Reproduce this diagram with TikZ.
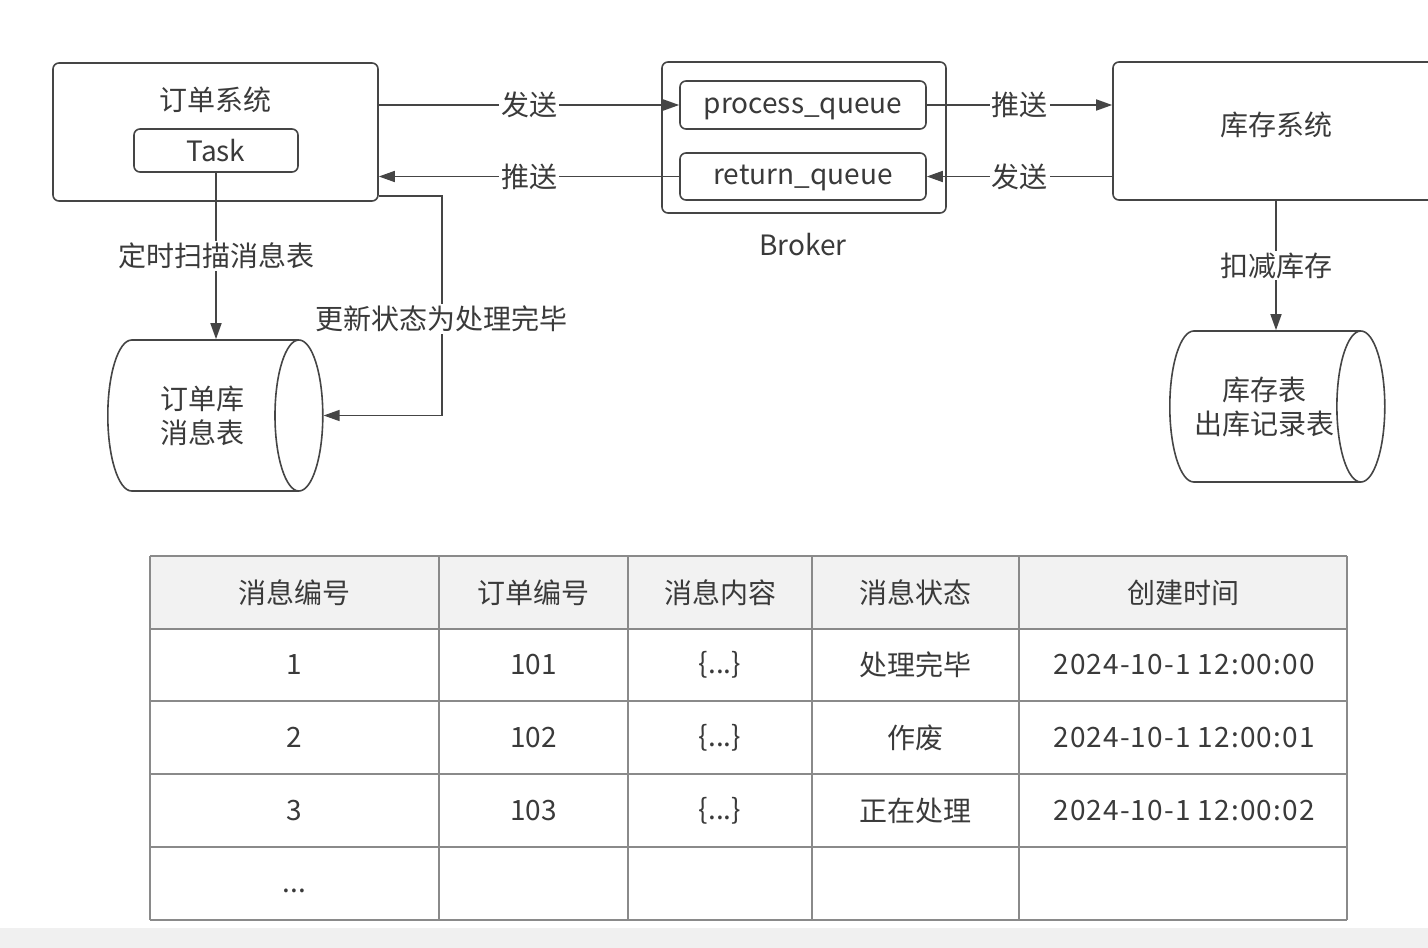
\documentclass[tikz,border=0pt]{standalone}
\usepackage{fontspec}
\setmainfont{Noto Sans CJK SC}
\usepackage{tikz}
\usetikzlibrary{arrows.meta,shapes.geometric}
\definecolor{linegray}{HTML}{454545}
\definecolor{textgray}{HTML}{3A3A3A}
\definecolor{gridgray}{HTML}{8A8A8A}
\definecolor{headfill}{HTML}{F2F2F2}
\newcommand{\msgbody}{\{...\}}

\begin{document}
\begin{tikzpicture}[x=1pt, y=-1pt,
    font=\fontsize{28}{34}\selectfont, text=textgray,
    box/.style={draw=linegray, line width=1.6pt, rounded corners=6pt, inner sep=0pt},
    db/.style={draw=linegray, line width=1.6pt, shape=cylinder, aspect=0.8, anchor=west,
      minimum width=151pt, minimum height=215pt, align=center, inner sep=0pt},
    arr/.style={draw=linegray, line width=1.6pt, -{Triangle[length=16pt,width=11pt]}},
    lbl/.style={fill=white, inner sep=2pt},
    grid/.style={draw=gridgray, line width=1.4pt}]
  \useasboundingbox (0,0) rectangle (1428,948);
  \fill[gray!12] (0,928) rectangle (1428,948);

  \node[box, minimum width=325pt, minimum height=138pt] (sys) at (215.5,132) {};
  \node (systitle) at (215,100) {订单系统};
  \node[box, minimum width=164pt, minimum height=43pt] (task) at (216,150.5) {Task};

  \node[box, minimum width=284pt, minimum height=151pt] (broker) at (804,137.5) {};
  \node[box, minimum width=246pt, minimum height=48pt, text height=20pt, text depth=4pt] (pq) at (803,105) {process\_queue};
  \node[box, minimum width=246pt, minimum height=47pt, text height=20pt, text depth=4pt] (rq) at (803,176.5) {return\_queue};
  \node (brokerlbl) at (803,245) {Broker};

  \node[box, minimum width=334pt, minimum height=138pt] (stock) at (1280,131) {};
  \node (stocktitle) at (1276,125) {库存系统};

  \node[db] (db1) at (107,415.5) {订单库\\消息表};
  \node[db] (db2) at (1169,406.5) {库存表\\出库记录表};

  \draw[arr] (sys.east |- pq) -- node[lbl] {发送} (pq.west);
  \draw[arr] (rq.west) -- node[lbl] {推送} (sys.east |- rq);
  \draw[arr] (pq.east) -- node[lbl] {推送} (stock.west |- pq);
  \draw[arr] (stock.west |- rq) -- node[lbl] {发送} (rq.east);
  \draw[arr] (task.south) -- node[lbl] {定时扫描消息表} (task.south |- db1.north);
  \draw[arr] ([yshift=6pt]sys.south east) -- ++(63,0) |- node[lbl, pos=0.28] {更新状态为处理完毕} (db1.east);
  \draw[arr] (stocktitle |- stock.south) -- node[lbl] {扣减库存} (stocktitle |- db2.north);

  \fill[headfill] (150,556) rectangle (1347,629);
  \foreach \y in {556,629,701,774,847,920}
    \draw[grid] (150,\y) -- (1347,\y);
  \foreach \x in {150,439,628,812,1019,1347}
    \draw[grid] (\x,556) -- (\x,920);

  \foreach \cx/\name/\txt in {294.5/h1/消息编号, 533.5/h2/订单编号, 720/h3/消息内容,
      915.5/h4/消息状态, 1183/h5/创建时间}
    \node (\name) at (\cx,592.5) {\txt};
  \foreach \r/\cy/\a/\b/\c/\d/\e in {
      1/665/1/101/\msgbody/处理完毕/2024-10-1 12:00:00,
      2/737.5/2/102/\msgbody/作废/2024-10-1 12:00:01,
      3/810.5/3/103/\msgbody/正在处理/2024-10-1 12:00:02} {
    \node (r\r a) at (294.5,\cy) {\a};
    \node (r\r b) at (533.5,\cy) {\b};
    \node (r\r c) at (720,\cy) {\c};
    \node (r\r d) at (915.5,\cy) {\d};
    \node[font=\fontsize{28}{34}\selectfont\addfontfeature{LetterSpace=4}] (r\r e) at (1184,\cy) {\e};
  }
  \node (r4a) at (294.5,891) {...};
\end{tikzpicture}
\end{document}
